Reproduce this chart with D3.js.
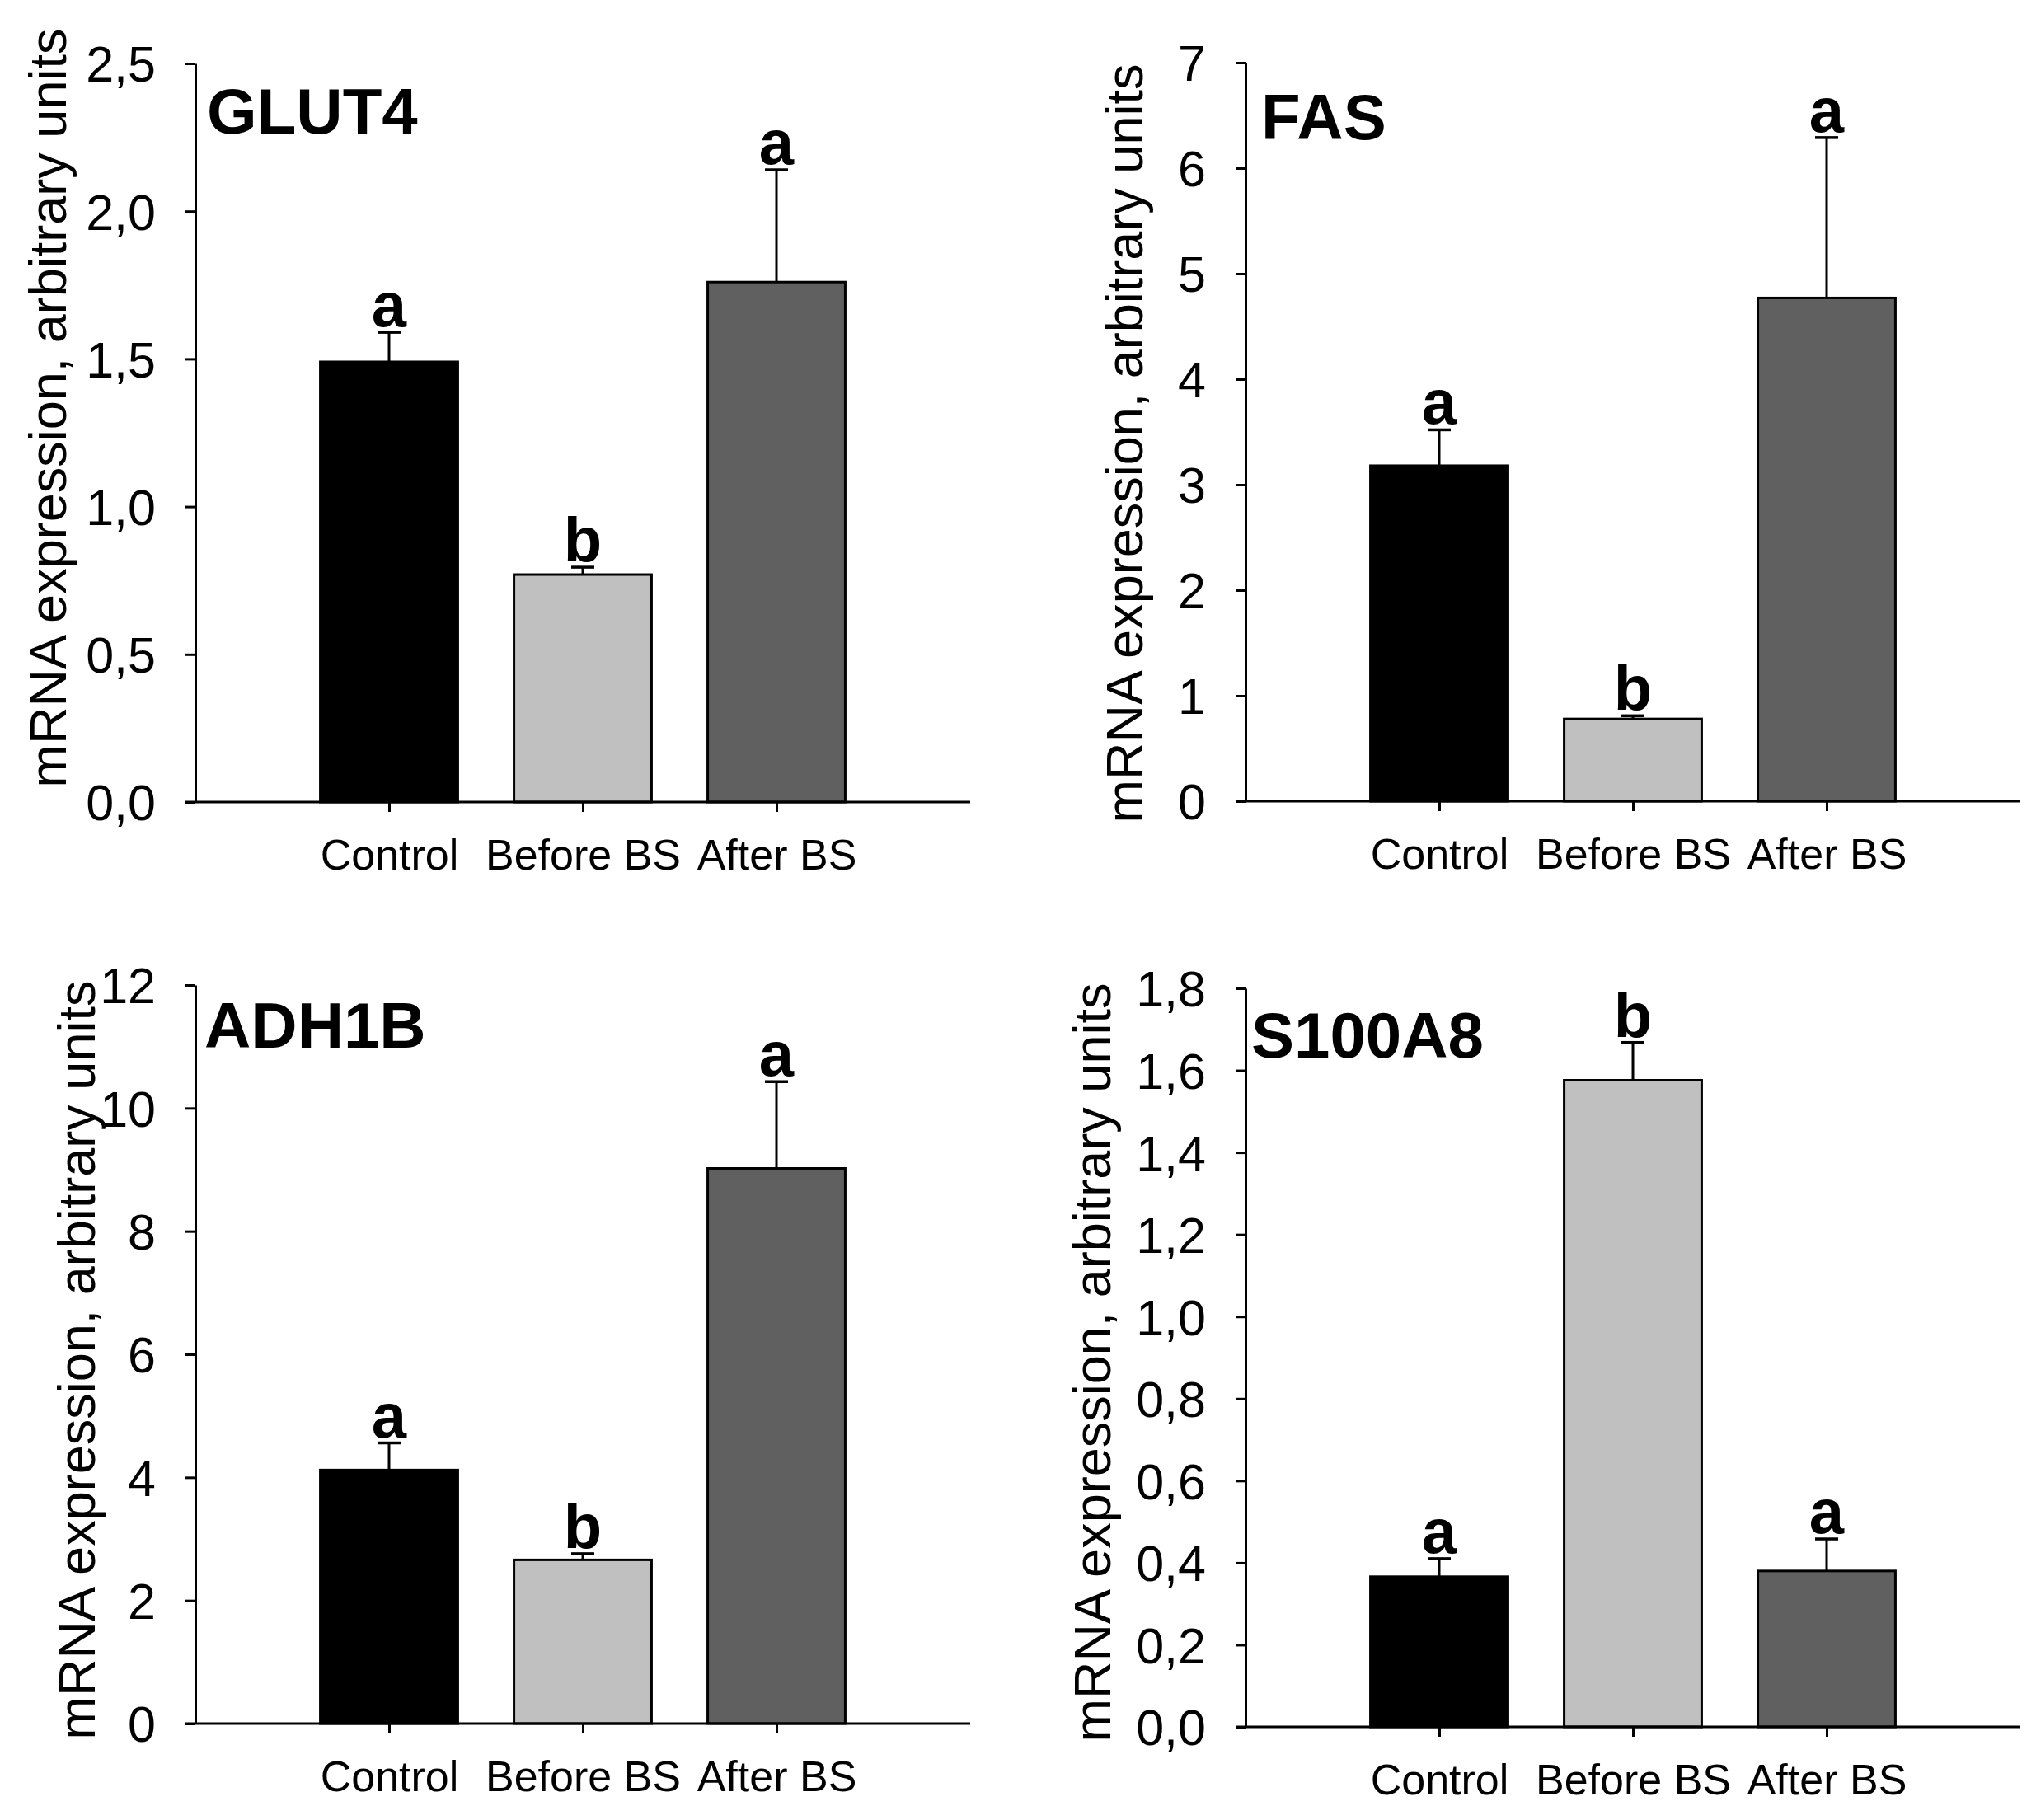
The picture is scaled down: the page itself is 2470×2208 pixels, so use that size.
<!DOCTYPE html>
<html>
<head>
<meta charset="utf-8">
<script src="https://cdn.jsdelivr.net/npm/d3@7"></script>
<style>
  body { margin: 0; background: #fff; }
  svg { display: block; }
  text { font-family: "Liberation Sans", Arial, sans-serif; fill: #000; }
</style>
</head>
<body>
<svg id="chart" width="2470" height="2208"></svg>
<script>
// groups on the x axis
var categories = ["Control", "Before BS", "After BS"];
var barColors = ["#000000", "#c0c0c0", "#606060"];

// means and SEM
var glut4Mean = [1.49, 0.77, 1.76];
var glut4Sem = [0.10, 0.025, 0.38];
var glut4Letters = ["a", "b", "a"];
var glut4Ticks = [0, 0.5, 1.0, 1.5, 2.0, 2.5];

var fasMean = [3.18, 0.78, 4.77];
var fasSem = [0.34, 0.03, 1.52];
var fasLetters = ["a", "b", "a"];
var fasTicks = [0, 1, 2, 3, 4, 5, 6, 7];

var adh1bMean = [4.12, 2.66, 9.02];
var adh1bSem = [0.44, 0.10, 1.41];
var adh1bLetters = ["a", "b", "a"];
var adh1bTicks = [0, 2, 4, 6, 8, 10, 12];

var s100a8Mean = [0.366, 1.576, 0.380];
var s100a8Sem = [0.044, 0.092, 0.078];
var s100a8Letters = ["a", "b", "a"];
var s100a8Ticks = [0, 0.2, 0.4, 0.6, 0.8, 1.0, 1.2, 1.4, 1.6, 1.8];

var yLabel = "mRNA expression, arbitrary units";

var comma = d3.formatLocale({decimal: ",", thousands: ".", grouping: [3], currency: ["", ""]});

var panels = [
  {title: "GLUT4", mean: glut4Mean, sem: glut4Sem, letters: glut4Letters, ticks: glut4Ticks, fmt: comma.format(".1f"),
   x0: 237, top: 77, titleDx: 14, titleDy: 85, labelOff: 157, labelShift: -30},
  {title: "FAS", mean: fasMean, sem: fasSem, letters: fasLetters, ticks: fasTicks, fmt: comma.format("d"),
   x0: 1511, top: 76, titleDx: 19, titleDy: 93, labelOff: 125, labelShift: 14},
  {title: "ADH1B", mean: adh1bMean, sem: adh1bSem, letters: adh1bLetters, ticks: adh1bTicks, fmt: comma.format("d"),
   x0: 237, top: 1195, titleDx: 11, titleDy: 76, labelOff: 122, labelShift: 7},
  {title: "S100A8", mean: s100a8Mean, sem: s100a8Sem, letters: s100a8Letters, ticks: s100a8Ticks, fmt: comma.format(".1f"),
   x0: 1511, top: 1199, titleDx: 7, titleDy: 84, labelOff: 164, labelShift: 6}
];

var W = 940, H = 896, tickLen = 12;
var svg = d3.select("#chart");
svg.append("rect").attr("width", 2470).attr("height", 2208).attr("fill", "#fff");

panels.forEach(function(p) {
  var g = svg.append("g").attr("transform", "translate(" + p.x0 + "," + p.top + ")");

  var x = d3.scalePoint().domain(categories).range([0, W]).padding(1);
  var step = x.step();
  var bw = step * 0.71;
  var y = d3.scaleLinear().domain([0, d3.max(p.ticks)]).range([H, 0]);

  var rows = categories.map(function(c, i) {
    return {cat: c, mean: p.mean[i], sem: p.sem[i], letter: p.letters[i], color: barColors[i]};
  });

  // bars
  g.selectAll(".bar").data(rows).enter().append("rect")
    .attr("class", "bar")
    .attr("x", function(d) { return x(d.cat) - bw / 2; })
    .attr("y", function(d) { return y(d.mean); })
    .attr("width", bw)
    .attr("height", function(d) { return H - y(d.mean); })
    .attr("fill", function(d) { return d.color; })
    .attr("stroke", "#000")
    .attr("stroke-width", 3);

  // error bars (upper only)
  g.selectAll(".err").data(rows).enter().append("line")
    .attr("x1", function(d) { return x(d.cat); })
    .attr("x2", function(d) { return x(d.cat); })
    .attr("y1", function(d) { return y(d.mean); })
    .attr("y2", function(d) { return y(d.mean + d.sem); })
    .attr("stroke", "#000").attr("stroke-width", 3);
  g.selectAll(".cap").data(rows).enter().append("line")
    .attr("x1", function(d) { return x(d.cat) - 14; })
    .attr("x2", function(d) { return x(d.cat) + 14; })
    .attr("y1", function(d) { return y(d.mean + d.sem); })
    .attr("y2", function(d) { return y(d.mean + d.sem); })
    .attr("stroke", "#000").attr("stroke-width", 3.5);

  // significance letters
  g.selectAll(".sig").data(rows).enter().append("text")
    .attr("x", function(d) { return x(d.cat); })
    .attr("y", function(d) { return y(d.mean + d.sem) - 7; })
    .attr("text-anchor", "middle")
    .attr("font-weight", "bold")
    .attr("font-size", 76)
    .text(function(d) { return d.letter; });

  // y axis
  var ya = g.append("g").call(d3.axisLeft(y).tickValues(p.ticks).tickFormat(p.fmt)
    .tickSize(tickLen).tickSizeOuter(0).tickPadding(36));
  ya.selectAll("line, path").attr("stroke", "#000").attr("stroke-width", 3);
  ya.selectAll("text").attr("font-size", 61).attr("dy", "0.36em")
    .attr("font-family", "'Liberation Sans', Arial, sans-serif");

  // x axis
  var xa = g.append("g").attr("transform", "translate(0," + H + ")")
    .call(d3.axisBottom(x).tickSize(tickLen).tickSizeOuter(0));
  xa.select(".domain").attr("d", "M" + (-tickLen) + ",0H" + W);
  xa.selectAll("line, path").attr("stroke", "#000").attr("stroke-width", 3);
  xa.selectAll("text").attr("font-size", 52).attr("y", 82).attr("dy", 0)
    .attr("font-family", "'Liberation Sans', Arial, sans-serif");

  // panel title
  g.append("text")
    .attr("x", p.titleDx).attr("y", p.titleDy)
    .attr("font-weight", "bold").attr("font-size", 78)
    .text(p.title);

  // y axis title
  g.append("text")
    .attr("transform", "translate(" + (-p.labelOff) + "," + (H / 2 + p.labelShift) + ") rotate(-90)")
    .attr("text-anchor", "middle")
    .attr("font-size", 63)
    .text(yLabel);
});
</script>
</body>
</html>
